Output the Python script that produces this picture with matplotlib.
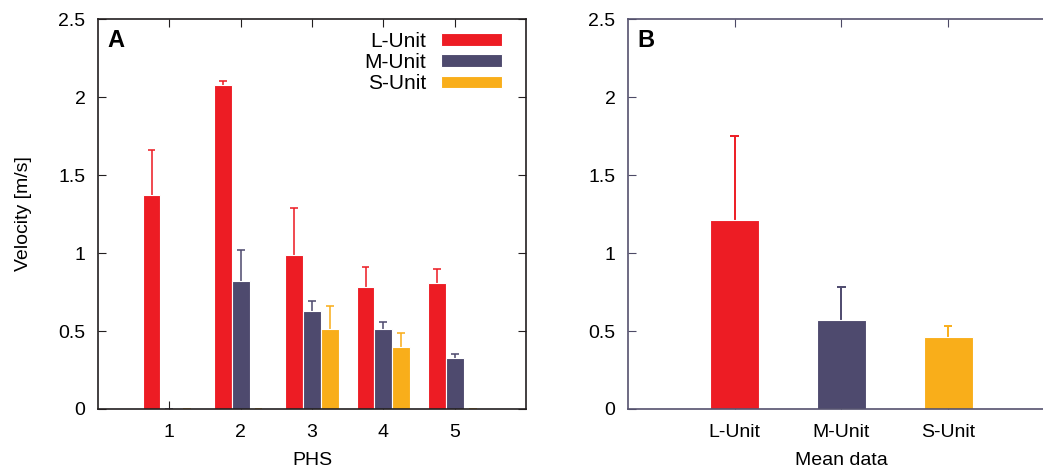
import numpy as np
import matplotlib.pyplot as plt

plt.rcParams['font.family'] = ['Liberation Sans', 'DejaVu Sans']

# panel A: velocity per PHS
phs = [1, 2, 3, 4, 5]
l_unit = [1.37, 2.08, 0.99, 0.78, 0.81]
l_err = [0.29, 0.02, 0.30, 0.13, 0.09]
m_unit = [0.0, 0.82, 0.63, 0.51, 0.33]
m_err = [0.0, 0.20, 0.06, 0.05, 0.02]
s_unit = [0.0, 0.0, 0.51, 0.40, 0.0]
s_err = [0.0, 0.0, 0.15, 0.09, 0.0]

# panel B: mean data
units = ['L-Unit', 'M-Unit', 'S-Unit']
mean_vals = [1.21, 0.57, 0.46]
mean_err = [0.54, 0.21, 0.07]

red = '#ED1C24'
navy = '#4E4A6E'
orange = '#F9AE1A'
colors = [red, navy, orange]
fs = 14


def upper_err(ax, xs, vals, errs, color, capw, alpha=1.0):
    # only the upper half of the error bar, as in the original
    xs = np.asarray(xs, float)
    tops = np.asarray(vals) + np.asarray(errs)
    ax.vlines(xs, vals, tops, color=color, lw=1.4, alpha=alpha, zorder=1)
    ax.hlines(tops, xs - capw / 2, xs + capw / 2, color=color, lw=1.4, alpha=alpha, zorder=1)


fig = plt.figure(figsize=(10.43, 4.72), dpi=100)
axA = fig.add_axes([0.094, 0.1335, 0.4104, 0.826])
axB = fig.add_axes([0.602, 0.1335, 0.4094, 0.826])

x = np.array(phs)
w = 0.25
series = [('L-Unit', l_unit, l_err), ('M-Unit', m_unit, m_err), ('S-Unit', s_unit, s_err)]
for i, (name, vals, errs) in enumerate(series):
    xs = x + (i - 1) * w
    axA.bar(xs, vals, width=w, color=colors[i], edgecolor='white', linewidth=0.8, label=name, zorder=2)
    upper_err(axA, xs, vals, errs, colors[i], 0.11, alpha=0.8)

axA.set_xlim(0, 6)
axA.set_ylim(0, 2.5)
axA.set_xticks(phs)
axA.set_yticks([0, 0.5, 1, 1.5, 2, 2.5])
axA.set_yticklabels(['0', '0.5', '1', '1.5', '2', '2.5'])
axA.tick_params(direction='in', top=True, right=True, length=6, labelsize=fs, pad=9, color='#231F20')
axA.tick_params(axis='x', pad=11)
for sp in axA.spines.values():
    sp.set_color('#231F20')
    sp.set_linewidth(1.2)
axA.set_xlabel('PHS', fontsize=fs, labelpad=8)
axA.set_ylabel('Velocity [m/s]', fontsize=fs, labelpad=19)
axA.text(0.022, 0.975, 'A', transform=axA.transAxes, fontsize=17, fontweight='bold', va='top', ha='left')
leg = axA.legend(loc='upper right', bbox_to_anchor=(0.944, 0.967), frameon=False, markerfirst=False,
                 fontsize=15, handlelength=2.95, handleheight=0.55, labelspacing=0.1, handletextpad=0.7,
                 borderaxespad=0, borderpad=0)

xb = np.arange(1, len(units) + 1)
for i in range(len(units)):
    axB.bar(xb[i], mean_vals[i], width=0.46, color=colors[i], edgecolor='white', linewidth=0.8, zorder=2)
    upper_err(axB, [xb[i]], [mean_vals[i]], [mean_err[i]], colors[i], 0.08)

axB.set_xlim(0, 4)
axB.set_ylim(0, 2.5)
axB.set_xticks(xb)
axB.set_xticklabels(units)
axB.set_yticks([0, 0.5, 1, 1.5, 2, 2.5])
axB.set_yticklabels(['0', '0.5', '1', '1.5', '2', '2.5'])
axB.tick_params(direction='in', top=True, right=False, length=6, labelsize=fs, pad=9, color='#4D4A66')
axB.tick_params(axis='x', pad=11)
for sp in axB.spines.values():
    sp.set_color('#55526E')
    sp.set_linewidth(1.2)
axB.set_xlabel('Mean data', fontsize=fs, labelpad=8)
axB.text(0.022, 0.975, 'B', transform=axB.transAxes, fontsize=17, fontweight='bold', va='top', ha='left')

fig.savefig('out.png', dpi=100)
